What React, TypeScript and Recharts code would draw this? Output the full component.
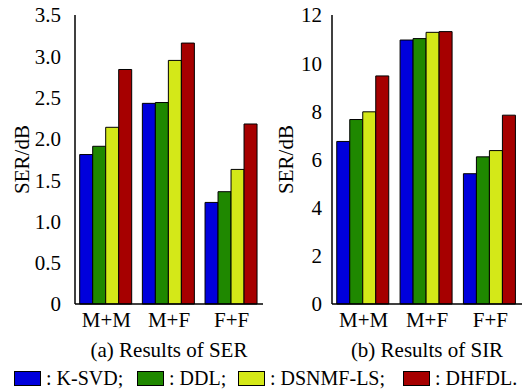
import React from 'react';
import { BarChart, Bar, XAxis, YAxis } from 'recharts';

const categories = ['M+M', 'M+F', 'F+F'];
const methods = ['K-SVD', 'DDL', 'DSNMF-LS', 'DHFDL'];
const COLORS = ['#0000dc', '#1f8800', '#d4e818', '#a60000'];

// SER values (dB)
const serKsvd = [1.81, 2.43, 1.23];
const serDdl = [1.91, 2.44, 1.36];
const serDsnmf = [2.14, 2.95, 1.63];
const serDhfdl = [2.84, 3.16, 2.18];

// SIR values (dB)
const sirKsvd = [6.75, 10.96, 5.41];
const sirDdl = [7.66, 11.02, 6.11];
const sirDsnmf = [7.98, 11.28, 6.37];
const sirDhfdl = [9.47, 11.31, 7.84];

const serTicks = [0, 0.5, 1, 1.5, 2, 2.5, 3, 3.5];
const sirTicks = [0, 2, 4, 6, 8, 10, 12];

const FONT = "'Liberation Serif', 'DejaVu Serif', 'Noto Serif', Tinos, Times, serif";
const FS = 21;
const tickStyle = { fontFamily: FONT, fontSize: FS, fill: '#000' };

function buildRows(series: number[][]) {
  return categories.map((name, i) => {
    const row: Record<string, string | number> = { name };
    methods.forEach((m, j) => {
      row[m] = series[j][i];
    });
    return row;
  });
}

const serData = buildRows([serKsvd, serDdl, serDsnmf, serDhfdl]);
const sirData = buildRows([sirKsvd, sirDdl, sirDsnmf, sirDhfdl]);

interface PanelProps {
  data: Record<string, string | number>[];
  width: number;
  yWidth: number;
  yMargin: number;
  domainMax: number;
  ticks: number[];
  fmt: (v: number) => string;
  title: string;
  labelOffset: number;
}

function Panel({ data, width, yWidth, yMargin, domainMax, ticks, fmt, title, labelOffset }: PanelProps) {
  return (
    <BarChart
      width={width}
      height={389}
      data={data}
      margin={{ top: 15, right: 1, bottom: 30, left: 0 }}
      barCategoryGap="7.5%"
      barGap={0}
      style={{ fontFamily: FONT, fontSize: FS }}
    >
      <XAxis
        dataKey="name"
        height={55}
        tickLine={false}
        tickSize={4}
        tickMargin={4}
        axisLine={{ stroke: '#000', strokeWidth: 1.5 }}
        tick={tickStyle}
        label={{ value: title, position: 'insideBottom', offset: 2, style: tickStyle }}
      />
      <XAxis xAxisId="top" orientation="top" height={0} tick={false} tickLine={false}
        axisLine={{ stroke: '#000', strokeWidth: 1.5 }} />
      <YAxis
        width={yWidth}
        domain={[0, domainMax]}
        ticks={ticks}
        interval={0}
        tickFormatter={fmt}
        tickLine={false}
        tickSize={6}
        tickMargin={yMargin}
        axisLine={{ stroke: '#000', strokeWidth: 1.5 }}
        tick={tickStyle}
        label={{
          value: 'SER/dB',
          angle: -90,
          position: 'insideLeft',
          offset: labelOffset,
          style: { ...tickStyle, textAnchor: 'middle' },
        }}
      />
      <YAxis yAxisId="right" orientation="right" width={0} tick={false} tickLine={false}
        axisLine={{ stroke: '#000', strokeWidth: 1.5 }} />
      {methods.map((m, i) => (
        <Bar key={m} dataKey={m} fill={COLORS[i]} stroke="#000" strokeWidth={1}
          isAnimationActive={false} />
      ))}
    </BarChart>
  );
}

const legendLeft = [14, 137, 238, 403];

export default function App() {
  return (
    <div style={{ position: 'relative', width: 523, height: 389, background: '#fff', fontFamily: FONT }}>
      <style>{'body{margin:0;}'}</style>
      <div style={{ position: 'absolute', left: 0, top: 0 }}>
        <Panel data={serData} width={264} yWidth={75} yMargin={8} domainMax={3.5} ticks={serTicks}
          fmt={(v) => (v === 0 ? '0' : v.toFixed(1))} title="(a) Results of SER" labelOffset={22} />
      </div>
      <div style={{ position: 'absolute', left: 262, top: 0 }}>
        <Panel data={sirData} width={261} yWidth={70} yMargin={4} domainMax={12} ticks={sirTicks}
          fmt={(v) => String(v)} title="(b) Results of SIR" labelOffset={24} />
      </div>
      {methods.map((m, i) => (
        <div key={m} style={{ position: 'absolute', left: legendLeft[i], top: 366, display: 'flex',
          alignItems: 'center', fontSize: 20, whiteSpace: 'nowrap', lineHeight: '24px' }}>
          <span style={{ display: 'inline-block', width: 25, height: 13, background: COLORS[i],
            border: '1px solid #000', marginRight: 5 }} />
          <span>{': ' + m + (i === methods.length - 1 ? '.' : ';')}</span>
        </div>
      ))}
    </div>
  );
}
